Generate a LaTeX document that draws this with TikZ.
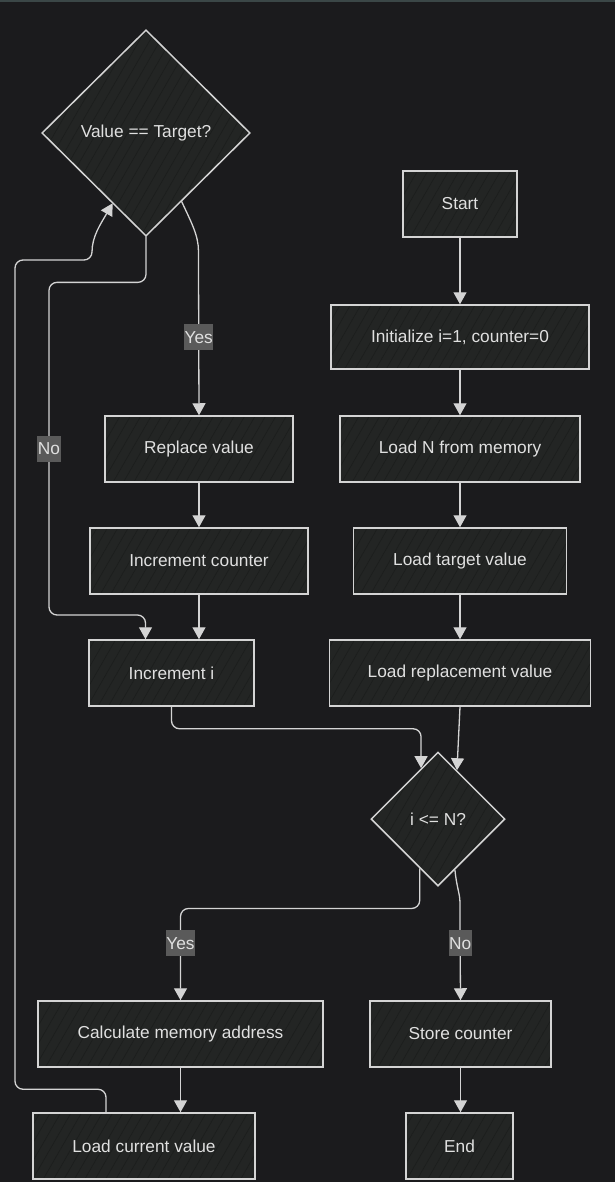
\documentclass[tikz,border=0pt]{standalone}
\usepackage{fontspec}
\setmainfont{Liberation Sans}
\usetikzlibrary{arrows.meta, shapes.geometric, calc, positioning, patterns.meta}
\definecolor{bgCol}{HTML}{1B1B1D}
\definecolor{barCol}{HTML}{3B4747}
\definecolor{boxFill}{HTML}{232524}
\definecolor{hatchCol}{HTML}{1C1E1D}
\definecolor{lineCol}{HTML}{D4D4D4}
\definecolor{textCol}{HTML}{E0E0E0}
\definecolor{labelFill}{HTML}{5A5A5A}
\tikzset{
    procBox/.style={rectangle, draw=lineCol, line width=1.5pt, preaction={fill=boxFill}, pattern={Lines[angle=60, distance=9pt, line width=0.7pt]}, pattern color=hatchCol, text=textCol, font=\fontsize{17.3}{20}\selectfont, inner sep=0pt},
    decBox/.style={procBox, diamond, aspect=1},
    flowEdge/.style={->, >={Triangle[width=13pt, length=12pt]}, draw=lineCol, line width=1.3pt, rounded corners=8pt},
    edgeLabel/.style={sharp corners, fill=labelFill, text=textCol, font=\fontsize{17.3}{20}\selectfont, inner xsep=0.5pt, inner ysep=7pt},
}
\newcommand{\drawStep}[2]{
    \draw[flowEdge] (#1.south) -- (#1.south |- #2.north);
}
\begin{document}
\begin{tikzpicture}[x=1pt, y=-1pt]

        \path[use as bounding box, fill=bgCol] (0,0) rectangle (615,1182);
        \fill[barCol] (0,0) rectangle (615,2.5);

        % decisions
        \node[decBox, minimum width=208pt, minimum height=206pt] (vt) at (146,133) {Value == Target?};
        \node[decBox, minimum width=134pt, minimum height=134pt] (cond) at (438,819) {i <= N?};

        % right column
        \node[procBox, minimum width=114pt, minimum height=66pt] (start) at (460,204) {Start};
        \node[procBox, minimum width=258pt, minimum height=64pt] (init) at (460,337) {Initialize i=1, counter=0};
        \node[procBox, minimum width=240pt, minimum height=66pt] (loadn) at (460,449) {Load N from memory};
        \node[procBox, minimum width=213pt, minimum height=66pt] (loadt) at (460,561) {Load target value};
        \node[procBox, minimum width=261pt, minimum height=66pt] (loadr) at (460,673) {Load replacement value};

        % left column
        \node[procBox, minimum width=188pt, minimum height=66pt] (repl) at (199,449) {Replace value};
        \node[procBox, minimum width=218pt, minimum height=66pt] (incc) at (199,561) {Increment counter};
        \node[procBox, minimum width=165pt, minimum height=66pt] (inci) at (171.5,673) {Increment i};

        % bottom
        \node[procBox, minimum width=285pt, minimum height=66pt] (calc) at (180.5,1034) {Calculate memory address};
        \node[procBox, minimum width=222pt, minimum height=66pt] (loadc) at (144,1146) {Load current value};
        \node[procBox, minimum width=181pt, minimum height=66pt] (store) at (460.5,1034) {Store counter};
        \node[procBox, minimum width=107pt, minimum height=66pt] (end) at (459.5,1146) {End};

        % points on the diamond borders
        \coordinate (cne) at ($(cond.north)!0.28!(cond.east)$);
        \coordinate (cnw) at ($(cond.north)!0.25!(cond.west)$);
        \coordinate (csw) at ($(cond.south)!0.27!(cond.west)$);
        \coordinate (cse) at ($(cond.south)!0.25!(cond.east)$);
        \coordinate (vsw) at ($(vt.south)!0.32!(vt.west)$);
        \coordinate (vse) at ($(vt.south)!0.34!(vt.east)$);
        \coordinate (loopTop) at (15,260);
        \coordinate (noTurn) at (49,615);

        \drawStep{start}{init}
        \drawStep{init}{loadn}
        \drawStep{loadn}{loadt}
        \drawStep{loadt}{loadr}
        \draw[flowEdge] (loadr.south) -- (cne);
        \draw[flowEdge] (inci.south) -- ++(0,22) -| (cnw);

        \draw[flowEdge] (csw) -- ++(0,40) -| node[edgeLabel, pos=0.69] {Yes} (calc.north);
        \draw[flowEdge] (cse) to[out=-85, in=90] ++(5,40) -- node[edgeLabel, pos=0.37] {No} (store.north);
        \drawStep{calc}{loadc}
        \drawStep{store}{end}

        \draw[flowEdge] ([xshift=-38pt]loadc.north) -- ++(0,-23) -| (loopTop) -- ++(77,0) to[out=90, in=-120] (vsw);
        \draw[flowEdge] (vt.south) -- ++(0,46) -| node[edgeLabel, pos=0.75] {No} (noTurn) -| ([xshift=-26pt]inci.north);
        \draw[flowEdge] (vse) to[out=-65, in=90] ++(17,58) -- node[edgeLabel] {Yes} (repl.north);
        \drawStep{repl}{incc}
        \drawStep{incc}{inci}

    \end{tikzpicture}
\end{document}
